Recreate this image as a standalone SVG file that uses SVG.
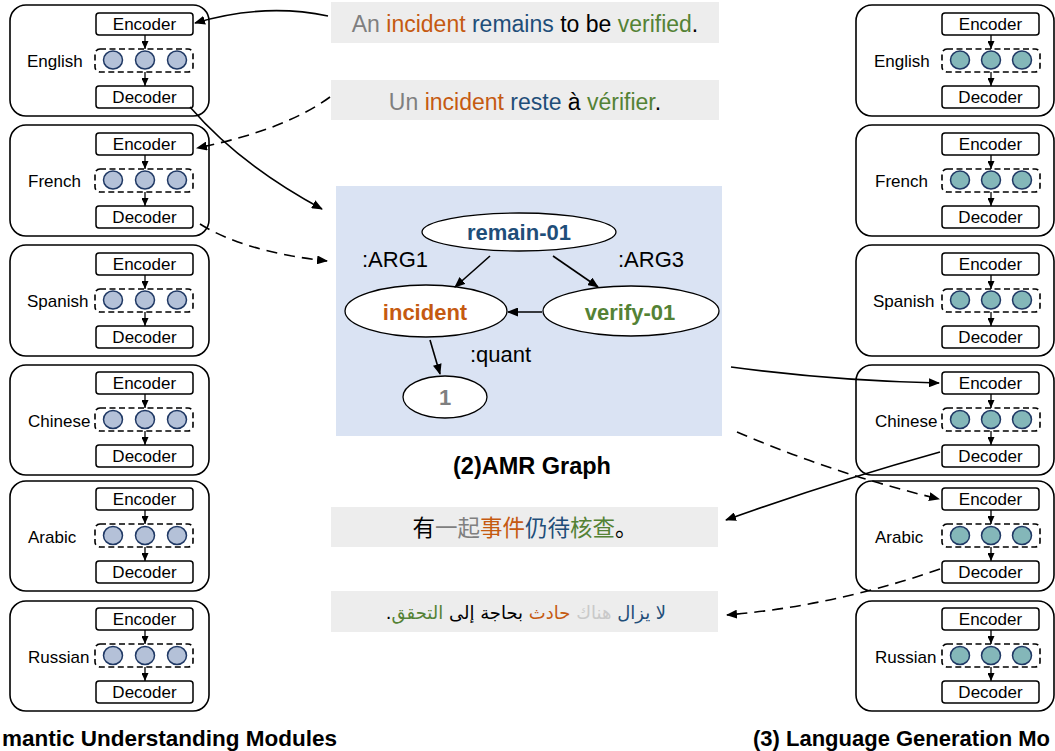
<svg xmlns="http://www.w3.org/2000/svg" width="1055" height="751" viewBox="0 0 1055 751">
<style>
text{font-family:"Liberation Sans",Arial,sans-serif}
.outer{fill:#fff;stroke:#000;stroke-width:1.6}
.box{fill:#fff;stroke:#000;stroke-width:1.5}
.dash{fill:none;stroke:#000;stroke-width:1.6;stroke-dasharray:6,3.5}
.cl{fill:#B4C1D8;stroke:#1F3864;stroke-width:1.5}
.cr{fill:#84B7B9;stroke:#1F3864;stroke-width:1.5}
.mod{font-size:17px;text-anchor:middle;fill:#000}
.lab{font-size:17px;fill:#000}
.sm{stroke:#000;stroke-width:1.3;fill:none}
.conn{fill:none;stroke:#000;stroke-width:1.6}
.dconn{fill:none;stroke:#000;stroke-width:1.6;stroke-dasharray:11,7}
.tb{fill:#EDEDED}
.sent{font-size:23px;text-anchor:middle}
.amr{fill:#fff;stroke:#000;stroke-width:1.3}
.nl{font-size:22px;font-weight:bold;text-anchor:middle}
.el{font-size:22px;fill:#000}
.title{font-size:22.5px;font-weight:bold;fill:#000}
.g{fill:#7F7F7F}.o{fill:#C55A11}.b{fill:#1F4E79}.gr{fill:#548235}.k{fill:#000}.lg{fill:#C9C9C9}
</style>
<defs>
<marker id="ah" markerUnits="userSpaceOnUse" markerWidth="11" markerHeight="9" refX="10" refY="4.5" orient="auto"><path d="M0,0 L11,4.5 L0,9 z" fill="#000"/></marker>
<marker id="as" markerUnits="userSpaceOnUse" markerWidth="8" markerHeight="7" refX="8" refY="3.5" orient="auto"><path d="M0,0 L8,3.5 L0,7 z" fill="#000"/></marker>
</defs>

<!-- Left: semantic understanding modules -->
<g id="su-english">
<rect class="outer" x="10" y="5" width="199" height="111" rx="16"/>
<rect class="box" x="96" y="13" width="97" height="22" rx="3"/>
<text class="mod" x="144.5" y="30">Encoder</text>
<line class="sm" x1="145" y1="35" x2="145" y2="49" marker-end="url(#as)"/>
<rect class="dash" x="95" y="49" width="98" height="23" rx="5"/>
<ellipse class="cl" cx="113" cy="60" rx="9.5" ry="9"/>
<ellipse class="cl" cx="145" cy="60" rx="9.5" ry="9"/>
<ellipse class="cl" cx="177" cy="60" rx="9.5" ry="9"/>
<line class="sm" x1="145" y1="72" x2="145" y2="86" marker-end="url(#as)"/>
<rect class="box" x="96" y="86" width="97" height="22" rx="3"/>
<text class="mod" x="144.5" y="103">Decoder</text>
<text class="lab" x="27" y="67">English</text>
</g>
<g id="su-french">
<rect class="outer" x="10" y="125" width="199" height="111" rx="16"/>
<rect class="box" x="96" y="133" width="97" height="22" rx="3"/>
<text class="mod" x="144.5" y="150">Encoder</text>
<line class="sm" x1="145" y1="155" x2="145" y2="169" marker-end="url(#as)"/>
<rect class="dash" x="95" y="169" width="98" height="23" rx="5"/>
<ellipse class="cl" cx="113" cy="180" rx="9.5" ry="9"/>
<ellipse class="cl" cx="145" cy="180" rx="9.5" ry="9"/>
<ellipse class="cl" cx="177" cy="180" rx="9.5" ry="9"/>
<line class="sm" x1="145" y1="192" x2="145" y2="206" marker-end="url(#as)"/>
<rect class="box" x="96" y="206" width="97" height="22" rx="3"/>
<text class="mod" x="144.5" y="223">Decoder</text>
<text class="lab" x="28" y="187">French</text>
</g>
<g id="su-spanish">
<rect class="outer" x="10" y="245" width="199" height="111" rx="16"/>
<rect class="box" x="96" y="253" width="97" height="22" rx="3"/>
<text class="mod" x="144.5" y="270">Encoder</text>
<line class="sm" x1="145" y1="275" x2="145" y2="289" marker-end="url(#as)"/>
<rect class="dash" x="95" y="289" width="98" height="23" rx="5"/>
<ellipse class="cl" cx="113" cy="300" rx="9.5" ry="9"/>
<ellipse class="cl" cx="145" cy="300" rx="9.5" ry="9"/>
<ellipse class="cl" cx="177" cy="300" rx="9.5" ry="9"/>
<line class="sm" x1="145" y1="312" x2="145" y2="326" marker-end="url(#as)"/>
<rect class="box" x="96" y="326" width="97" height="22" rx="3"/>
<text class="mod" x="144.5" y="343">Decoder</text>
<text class="lab" x="27" y="307">Spanish</text>
</g>
<g id="su-chinese">
<rect class="outer" x="10" y="365" width="199" height="110" rx="16"/>
<rect class="box" x="96" y="372" width="97" height="22" rx="3"/>
<text class="mod" x="144.5" y="389">Encoder</text>
<line class="sm" x1="145" y1="394" x2="145" y2="408" marker-end="url(#as)"/>
<rect class="dash" x="95" y="408" width="98" height="23" rx="5"/>
<ellipse class="cl" cx="113" cy="419.5" rx="9.5" ry="9"/>
<ellipse class="cl" cx="145" cy="419.5" rx="9.5" ry="9"/>
<ellipse class="cl" cx="177" cy="419.5" rx="9.5" ry="9"/>
<line class="sm" x1="145" y1="431" x2="145" y2="445" marker-end="url(#as)"/>
<rect class="box" x="96" y="445" width="97" height="22" rx="3"/>
<text class="mod" x="144.5" y="462">Decoder</text>
<text class="lab" x="28" y="427">Chinese</text>
</g>
<g id="su-arabic">
<rect class="outer" x="10" y="481" width="199" height="110" rx="16"/>
<rect class="box" x="96" y="488" width="97" height="22" rx="3"/>
<text class="mod" x="144.5" y="505">Encoder</text>
<line class="sm" x1="145" y1="510" x2="145" y2="524" marker-end="url(#as)"/>
<rect class="dash" x="95" y="524" width="98" height="23" rx="5"/>
<ellipse class="cl" cx="113" cy="535.5" rx="9.5" ry="9"/>
<ellipse class="cl" cx="145" cy="535.5" rx="9.5" ry="9"/>
<ellipse class="cl" cx="177" cy="535.5" rx="9.5" ry="9"/>
<line class="sm" x1="145" y1="547" x2="145" y2="561" marker-end="url(#as)"/>
<rect class="box" x="96" y="561" width="97" height="22" rx="3"/>
<text class="mod" x="144.5" y="578">Decoder</text>
<text class="lab" x="28" y="543">Arabic</text>
</g>
<g id="su-russian">
<rect class="outer" x="10" y="601" width="199" height="110" rx="16"/>
<rect class="box" x="96" y="608" width="97" height="22" rx="3"/>
<text class="mod" x="144.5" y="625">Encoder</text>
<line class="sm" x1="145" y1="630" x2="145" y2="644" marker-end="url(#as)"/>
<rect class="dash" x="95" y="644" width="98" height="23" rx="5"/>
<ellipse class="cl" cx="113" cy="655.5" rx="9.5" ry="9"/>
<ellipse class="cl" cx="145" cy="655.5" rx="9.5" ry="9"/>
<ellipse class="cl" cx="177" cy="655.5" rx="9.5" ry="9"/>
<line class="sm" x1="145" y1="667" x2="145" y2="681" marker-end="url(#as)"/>
<rect class="box" x="96" y="681" width="97" height="22" rx="3"/>
<text class="mod" x="144.5" y="698">Decoder</text>
<text class="lab" x="28" y="663">Russian</text>
</g>
<text id="title-left" class="title" x="2" y="746">mantic Understanding Modules</text>

<!-- Right: language generation modules -->
<g id="lg-english">
<rect class="outer" x="856" y="5" width="198" height="111" rx="16"/>
<rect class="box" x="942" y="13" width="97" height="22" rx="3"/>
<text class="mod" x="990.5" y="30">Encoder</text>
<line class="sm" x1="991" y1="35" x2="991" y2="49" marker-end="url(#as)"/>
<rect class="dash" x="942" y="49" width="98" height="23" rx="5"/>
<ellipse class="cr" cx="960" cy="60" rx="9.5" ry="9"/>
<ellipse class="cr" cx="991" cy="60" rx="9.5" ry="9"/>
<ellipse class="cr" cx="1022" cy="60" rx="9.5" ry="9"/>
<line class="sm" x1="991" y1="72" x2="991" y2="86" marker-end="url(#as)"/>
<rect class="box" x="942" y="86" width="97" height="22" rx="3"/>
<text class="mod" x="990.5" y="103">Decoder</text>
<text class="lab" x="874" y="67">English</text>
</g>
<g id="lg-french">
<rect class="outer" x="856" y="125" width="198" height="111" rx="16"/>
<rect class="box" x="942" y="133" width="97" height="22" rx="3"/>
<text class="mod" x="990.5" y="150">Encoder</text>
<line class="sm" x1="991" y1="155" x2="991" y2="169" marker-end="url(#as)"/>
<rect class="dash" x="942" y="169" width="98" height="23" rx="5"/>
<ellipse class="cr" cx="960" cy="180" rx="9.5" ry="9"/>
<ellipse class="cr" cx="991" cy="180" rx="9.5" ry="9"/>
<ellipse class="cr" cx="1022" cy="180" rx="9.5" ry="9"/>
<line class="sm" x1="991" y1="192" x2="991" y2="206" marker-end="url(#as)"/>
<rect class="box" x="942" y="206" width="97" height="22" rx="3"/>
<text class="mod" x="990.5" y="223">Decoder</text>
<text class="lab" x="875" y="187">French</text>
</g>
<g id="lg-spanish">
<rect class="outer" x="856" y="245" width="198" height="111" rx="16"/>
<rect class="box" x="942" y="253" width="97" height="22" rx="3"/>
<text class="mod" x="990.5" y="270">Encoder</text>
<line class="sm" x1="991" y1="275" x2="991" y2="289" marker-end="url(#as)"/>
<rect class="dash" x="942" y="289" width="98" height="23" rx="5"/>
<ellipse class="cr" cx="960" cy="300" rx="9.5" ry="9"/>
<ellipse class="cr" cx="991" cy="300" rx="9.5" ry="9"/>
<ellipse class="cr" cx="1022" cy="300" rx="9.5" ry="9"/>
<line class="sm" x1="991" y1="312" x2="991" y2="326" marker-end="url(#as)"/>
<rect class="box" x="942" y="326" width="97" height="22" rx="3"/>
<text class="mod" x="990.5" y="343">Decoder</text>
<text class="lab" x="873" y="307">Spanish</text>
</g>
<g id="lg-chinese">
<rect class="outer" x="856" y="365" width="198" height="110" rx="16"/>
<rect class="box" x="942" y="372" width="97" height="22" rx="3"/>
<text class="mod" x="990.5" y="389">Encoder</text>
<line class="sm" x1="991" y1="394" x2="991" y2="408" marker-end="url(#as)"/>
<rect class="dash" x="942" y="408" width="98" height="23" rx="5"/>
<ellipse class="cr" cx="960" cy="419.5" rx="9.5" ry="9"/>
<ellipse class="cr" cx="991" cy="419.5" rx="9.5" ry="9"/>
<ellipse class="cr" cx="1022" cy="419.5" rx="9.5" ry="9"/>
<line class="sm" x1="991" y1="431" x2="991" y2="445" marker-end="url(#as)"/>
<rect class="box" x="942" y="445" width="97" height="22" rx="3"/>
<text class="mod" x="990.5" y="462">Decoder</text>
<text class="lab" x="875" y="427">Chinese</text>
</g>
<g id="lg-arabic">
<rect class="outer" x="856" y="481" width="198" height="110" rx="16"/>
<rect class="box" x="942" y="488" width="97" height="22" rx="3"/>
<text class="mod" x="990.5" y="505">Encoder</text>
<line class="sm" x1="991" y1="510" x2="991" y2="524" marker-end="url(#as)"/>
<rect class="dash" x="942" y="524" width="98" height="23" rx="5"/>
<ellipse class="cr" cx="960" cy="535.5" rx="9.5" ry="9"/>
<ellipse class="cr" cx="991" cy="535.5" rx="9.5" ry="9"/>
<ellipse class="cr" cx="1022" cy="535.5" rx="9.5" ry="9"/>
<line class="sm" x1="991" y1="547" x2="991" y2="561" marker-end="url(#as)"/>
<rect class="box" x="942" y="561" width="97" height="22" rx="3"/>
<text class="mod" x="990.5" y="578">Decoder</text>
<text class="lab" x="875" y="543">Arabic</text>
</g>
<g id="lg-russian">
<rect class="outer" x="856" y="601" width="198" height="110" rx="16"/>
<rect class="box" x="942" y="608" width="97" height="22" rx="3"/>
<text class="mod" x="990.5" y="625">Encoder</text>
<line class="sm" x1="991" y1="630" x2="991" y2="644" marker-end="url(#as)"/>
<rect class="dash" x="942" y="644" width="98" height="23" rx="5"/>
<ellipse class="cr" cx="960" cy="655.5" rx="9.5" ry="9"/>
<ellipse class="cr" cx="991" cy="655.5" rx="9.5" ry="9"/>
<ellipse class="cr" cx="1022" cy="655.5" rx="9.5" ry="9"/>
<line class="sm" x1="991" y1="667" x2="991" y2="681" marker-end="url(#as)"/>
<rect class="box" x="942" y="681" width="97" height="22" rx="3"/>
<text class="mod" x="990.5" y="698">Decoder</text>
<text class="lab" x="875" y="663">Russian</text>
</g>
<text id="title-right" class="title" x="753" y="746" style="font-size:22px">(3) Language Generation Mo</text>

<!-- Sentences -->
<g id="sent-en">
<rect class="tb" x="331" y="2" width="388" height="41"/>
<text class="sent" x="525" y="32"><tspan class="g">An</tspan> <tspan class="o">incident</tspan> <tspan class="b">remains</tspan> <tspan class="k">to be</tspan> <tspan class="gr">verified</tspan><tspan class="k">.</tspan></text>
</g>
<g id="sent-fr">
<rect class="tb" x="331" y="80" width="388" height="40"/>
<text class="sent" x="525" y="110"><tspan class="g">Un</tspan> <tspan class="o">incident</tspan> <tspan class="b">reste</tspan> <tspan class="k">à</tspan> <tspan class="gr">vérifier</tspan><tspan class="k">.</tspan></text>
</g>
<g id="sent-zh">
<rect class="tb" x="331" y="507" width="387" height="40"/>
<text x="525" y="536" text-anchor="middle" style="font-family:'Noto Sans CJK SC',sans-serif;font-size:22.5px"><tspan class="k">有</tspan><tspan class="g">一起</tspan><tspan class="o">事件</tspan><tspan class="b">仍待</tspan><tspan class="gr">核查</tspan><tspan class="k">。</tspan></text>
</g>
<g id="sent-ar">
<rect class="tb" x="331" y="591" width="387" height="41"/>
<text x="526" y="619" text-anchor="middle" direction="rtl" style="font-family:'DejaVu Sans',sans-serif;font-size:18px"><tspan class="b">لا يزال</tspan> <tspan class="lg">هناك</tspan> <tspan class="o">حادث</tspan> <tspan class="k">بحاجة إلى</tspan> <tspan class="gr">التحقق</tspan><tspan class="k">.</tspan></text>
</g>

<!-- AMR graph -->
<rect id="amr-panel" x="336" y="186" width="386" height="250" fill="#DAE3F3"/>
<g id="amr-remain">
<ellipse class="amr" cx="519" cy="232" rx="97" ry="19"/>
<text class="nl b" x="519" y="240">remain-01</text>
</g>
<g id="amr-incident">
<ellipse class="amr" cx="426" cy="311" rx="81" ry="26"/>
<text class="nl o" x="425" y="320">incident</text>
</g>
<g id="amr-verify">
<ellipse class="amr" cx="631" cy="311" rx="88" ry="25"/>
<text class="nl gr" x="630" y="320">verify-01</text>
</g>
<g id="amr-one">
<ellipse class="amr" cx="445" cy="397" rx="42" ry="21"/>
<text class="nl g" x="445" y="405">1</text>
</g>
<g id="amr-edges">
<line class="conn" x1="490" y1="256" x2="455" y2="287" marker-end="url(#ah)"/>
<line class="conn" x1="553" y1="256" x2="598" y2="287" marker-end="url(#ah)"/>
<line class="conn" x1="542" y1="312" x2="508" y2="312" marker-end="url(#ah)"/>
<line class="conn" x1="430" y1="340" x2="440" y2="374" marker-end="url(#ah)"/>
<text class="el" x="362" y="267">:ARG1</text>
<text class="el" x="618" y="267">:ARG3</text>
<text class="el" x="470" y="362">:quant</text>
</g>
<text id="amr-title" class="title" x="532" y="474" text-anchor="middle" style="font-size:23.5px">(2)AMR Graph</text>

<!-- Connectors -->
<g id="connectors">
<path class="conn" d="M328,16 Q264,2.5 195,23" marker-end="url(#ah)"/>
<path class="dconn" d="M330,97 Q285,130 197,148" marker-end="url(#ah)"/>
<path class="conn" d="M190,107 Q240,165 322,209" marker-end="url(#ah)"/>
<path class="dconn" d="M200,224 Q245,252 327,261" marker-end="url(#ah)"/>
<path class="conn" d="M731,367 Q835,381 939,383" marker-end="url(#ah)"/>
<path class="dconn" d="M737,432 Q835,474 939,499" marker-end="url(#ah)"/>
<path class="conn" d="M940,452 Q832,482 726,520" marker-end="url(#ah)"/>
<path class="dconn" d="M940,569 Q834,606 727,615" marker-end="url(#ah)"/>
</g>
</svg>
